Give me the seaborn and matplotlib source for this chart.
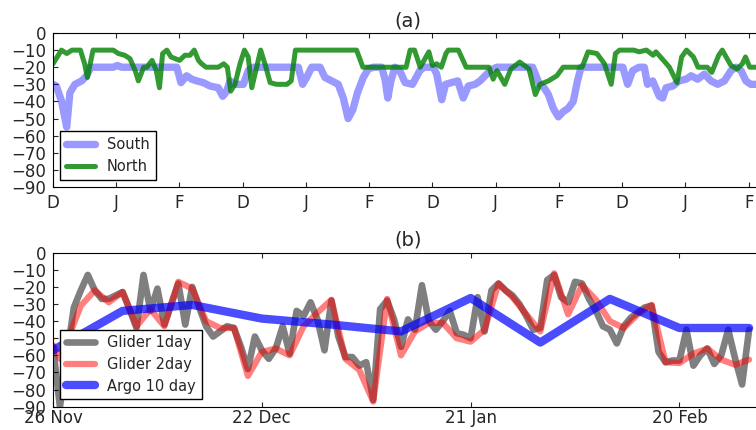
import numpy as np
import pandas as pd
import seaborn as sns
import matplotlib
matplotlib.use("Agg")
import matplotlib.pyplot as plt

# ---------------- data: panel (a) ----------------
south_days = [0, 1.6, 4.1, 6.5, 8, 10.4, 13.6, 16, 17.9, 28.6, 30.5, 32.6, 58.7, 60.7, 63.4,
              65.8, 68.2, 71.3, 74.5, 78.4, 80.5, 82.4, 84, 86.3, 90.3, 92.6, 95, 116.4,
              118.4, 120.3, 122.7, 126.7, 129, 132.2, 135.3, 137.7, 140, 142.2, 144.4,
              147.2, 149.6, 152, 155.9, 157.5, 158.8, 160.3, 162.2, 164.5, 167, 170.5,
              174, 176, 180.4, 182, 184.4, 186.2, 189, 192, 194.6, 197, 200.2, 202.6,
              205, 207.3, 210.5, 227.5, 230.8, 233, 235, 237.3, 239.7, 242, 244.4, 246.8,
              248.8, 250.5, 270.3, 272.6, 275, 278, 280.5, 282, 284.5, 287.6, 289.2,
              290.8, 294, 297, 300.3, 302.7, 305.8, 309, 312.1, 315.3, 318.5, 321.6, 324,
              326.4, 328.7, 331, 337]
south_vals = [-30, -31, -40, -55, -35, -30, -28, -25, -20, -20, -19, -20, -20, -29, -25,
              -27, -28, -29, -31, -32, -37, -34, -28, -30, -30, -22, -20, -20,
              -30, -26, -20, -20, -26, -28, -30, -38, -50, -45, -35,
              -26, -21, -20, -20, -27, -38, -28, -20, -22, -29, -30,
              -22, -20, -20, -24, -39, -30, -29, -28, -38, -31, -30, -28,
              -25, -22, -20, -20, -30, -32, -36, -44, -49, -46, -44, -40,
              -28, -20, -20, -30, -22, -20, -20, -30, -28, -37, -38,
              -32, -31, -28, -27, -25, -27, -24, -28, -30, -28, -22, -20,
              -22, -28, -30, -30]

north_days = [0, 4, 6.5, 9, 13, 15, 16.3, 19, 28.6, 31, 34, 36.5, 39, 40.5, 43, 44.5, 47,
              49, 50.5, 52, 54, 56, 60, 62.6, 65, 67, 69, 70.5, 72.6, 78.4, 81, 82.7,
              84.3, 86.3, 88.7, 90.8, 92.6, 94.3, 96.6, 98.5, 101, 103, 106, 111, 113,
              115, 144, 147, 167.5, 169.4, 171.5, 174.2, 178.3, 180, 182, 184.2, 186.4,
              187.5, 192.3, 196, 206.8, 208.8, 210.6, 214.3, 217.2, 221.4, 225.8, 228.8,
              231, 235, 239, 242, 251, 253.8, 258, 261.6, 264.8, 266.8, 268.8, 275.5,
              278, 281.5, 284.7, 286, 289.6, 292.4, 296, 298.2, 300.5, 303.8, 306, 310.4,
              312.5, 315.8, 317.5, 319.3, 321.6, 324.5, 327, 328.5, 330.5, 337]
north_vals = [-18, -10, -12, -10, -10, -18, -26, -10, -10, -12, -13, -15, -22, -28, -20, -20, -16,
              -22, -32, -12, -10, -14, -16, -13, -13, -10, -16, -18, -20, -20, -18, -20,
              -34, -30, -18, -10, -14, -32, -20, -10, -20, -29, -30, -30, -28,
              -10, -10, -20, -20, -10, -10, -20, -11, -19, -18, -20, -12,
              -10, -10, -20, -20, -27, -22, -30, -21, -17, -21, -36,
              -30, -28, -25, -20, -20, -11, -12, -18, -30, -12, -10, -10,
              -11, -10, -13, -11, -16, -20, -29, -14, -10, -14, -20, -20,
              -23, -13, -10, -14, -19, -21, -18, -14, -20, -20]

season_ticks = [0, 30, 60, 90, 120, 150, 180, 210, 240, 270, 300, 330]
season_labels = ["D", "J", "F"] * 4

# ---------------- data: panel (b) ----------------
glider1_days = list(range(0, 101))
glider1_vals = [-55, -90, -60, -32, -22, -13, -22, -27, -27, -25,
                -23, -33, -44, -13, -34, -21, -42, -30, -18, -42,
                -20, -32, -43, -49, -46, -43, -44, -55, -68, -49,
                -57, -62, -56, -43, -59, -34, -37, -29, -39, -57,
                -28, -49, -61, -61, -66, -64, -86, -33, -28, -39,
                -55, -39, -45, -19, -40, -45, -40, -34, -47, -48,
                -50, -26, -46, -22, -18, -22, -25, -30, -37, -45,
                -44, -16, -13, -26, -29, -17, -18, -27, -34, -43,
                -45, -53, -43, -38, -35, -32, -31, -58, -64, -63,
                -63, -45, -66, -60, -56, -65, -60, -45, -62, -77,
                -45]

glider2_days = [0, 1] + list(range(4, 101, 2))
glider2_vals = [-54, -62, -31, -22, -29, -23, -43, -33, -43, -17,
                -21, -40, -44, -44, -72, -58, -56, -60, -43, -35,
                -27.5, -62, -68.5, -87, -27, -60, -46, -41, -41, -50,
                -52, -45, -18, -26, -36, -46, -12, -36, -19, -27.5,
                -40, -44, -36, -30.5, -64, -64.5, -59, -56, -62.5, -65.5,
                -62.5]

argo_days = list(range(0, 101, 10))
argo_vals = [-57, -34, -30.5, -38.5, -42, -46, -26.5, -52.5, -27, -44, -44]

date_ticks = [0, 30, 60, 90]
date_labels = ["26 Nov", "22 Dec", "21 Jan", "20 Feb"]

y_ticks = list(range(-90, 1, 10))

# ---------------- style ----------------
sns.set_style("ticks", rc={
    "xtick.direction": "in", "ytick.direction": "in",
    "xtick.top": True, "ytick.right": True,
    "axes.edgecolor": "black", "axes.linewidth": 1.0,
    "xtick.major.size": 4, "ytick.major.size": 4,
})
plt.rcParams["font.family"] = ["DejaVu Sans"]
plt.rcParams["font.size"] = 12

fig = plt.figure(figsize=(7.56, 4.30), dpi=100)
W, H = 756.0, 430.0
ax1 = fig.add_axes([53 / W, (H - 187) / H, 710 / W, 154 / H])
ax2 = fig.add_axes([53 / W, (H - 406.7) / H, 710 / W, 154 / H])

# panel (a)
dfs = pd.DataFrame({"day": south_days, "depth": south_vals})
dfn = pd.DataFrame({"day": north_days, "depth": north_vals})
sns.lineplot(data=dfs, x="day", y="depth", ax=ax1, color="blue", alpha=0.4,
             linewidth=5.3, label="South")
sns.lineplot(data=dfn, x="day", y="depth", ax=ax1, color="green", alpha=0.8,
             linewidth=3.6, label="North")
ax1.set_xlim(0, 336.8)
ax1.set_ylim(-90, 0)
ax1.set_xticks(season_ticks)
ax1.set_xticklabels(season_labels)
ax1.set_yticks(y_ticks)
ax1.set_xlabel("")
ax1.set_ylabel("")
ax1.set_title("(a)", fontsize=14, pad=5)

# panel (b)
dg1 = pd.DataFrame({"day": glider1_days, "depth": glider1_vals})
dg2 = pd.DataFrame({"day": glider2_days, "depth": glider2_vals})
dar = pd.DataFrame({"day": argo_days, "depth": argo_vals})
sns.lineplot(data=dg1, x="day", y="depth", ax=ax2, color="black", alpha=0.5,
             linewidth=4.8, label="Glider 1day")
sns.lineplot(data=dg2, x="day", y="depth", ax=ax2, color="red", alpha=0.5,
             linewidth=4.5, label="Glider 2day")
sns.lineplot(data=dar, x="day", y="depth", ax=ax2, color="blue", alpha=0.7,
             linewidth=6, label="Argo 10 day")
ax2.set_xlim(0, 102)
ax2.set_ylim(-90, 0)
ax2.set_xticks(date_ticks)
ax2.set_xticklabels(date_labels)
ax2.set_yticks(y_ticks)
ax2.set_xlabel("")
ax2.set_ylabel("")
ax2.set_title("(b)", fontsize=14, pad=5)

for ax in (ax1, ax2):
    ax.tick_params(axis="y", labelsize=12, pad=5)
    for s in ax.spines.values():
        s.set_visible(True)
    leg = ax.legend(loc="lower left", fontsize=10.5, frameon=True, fancybox=False,
                    framealpha=1, edgecolor="black", borderaxespad=0.5,
                    handlelength=2.0, labelspacing=0.45)
    leg.get_frame().set_linewidth(1.0)
ax1.tick_params(axis="x", labelsize=12, pad=5)
ax2.tick_params(axis="x", labelsize=12, pad=2)

fig.savefig("out.png", dpi=100)
